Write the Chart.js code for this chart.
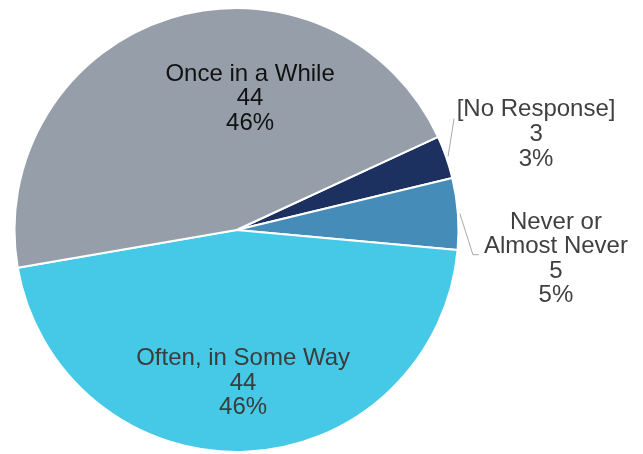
<!DOCTYPE html>
<html>
<head>
<meta charset="utf-8">
<script src="https://cdn.jsdelivr.net/npm/chart.js@4/dist/chart.umd.min.js"></script>
<style>
    html, body { margin: 0; padding: 0; background: #fff; }
    #wrap { width: 643px; height: 454px; }
</style>
</head>
<body>
<div id="wrap"><canvas id="myChart" width="643" height="454"></canvas></div>
<script>
const categories = ['[No Response]', 'Never or\nAlmost Never', 'Often, in Some Way', 'Once in a While'];
const counts = [3, 5, 44, 44];
const sliceColors = ['#1c3160', '#468cb8', '#46c9e6', '#969fa9'];
const labelColors = ['#404040', '#404040', '#3c3c3c', '#111111'];

const total = counts.reduce((a, b) => a + b, 0);
const percents = counts.map(v => Math.round(v / total * 100) + '%');

// where each label goes: inside ones by angle/distance from the centre,
// outside ones as an offset from the slice edge with a leader line
const labelPlacement = [
    { outside: true, dx: 88, dy: -40, elbow: [6, -38], tail: 0 },
    { outside: true, dx: 96, dy: 15, elbow: [13, 41], tail: 6 },
    { outside: false, angle: 87.2, dist: 0.609 },
    { outside: false, angle: -84.8, dist: 0.675 }
];

const pieLabels = {
    id: 'pieLabels',
    afterDatasetsDraw(chart) {
        const ctx = chart.ctx;
        const meta = chart.getDatasetMeta(0);
        ctx.save();
        ctx.font = '24px "Liberation Sans", Arial, sans-serif';
        ctx.textAlign = 'center';
        ctx.textBaseline = 'alphabetic';
        meta.data.forEach((arc, i) => {
            const p = labelPlacement[i];
            const r = arc.outerRadius;
            const lines = categories[i].split('\n').concat([String(counts[i]), percents[i]]);
            let x, y, lh;
            if (p.outside) {
                const mid = (arc.startAngle + arc.endAngle) / 2;
                const ex = arc.x + Math.cos(mid) * (r + 2);
                const ey = arc.y + Math.sin(mid) * (r + 2);
                ctx.strokeStyle = '#a8a8a8';
                ctx.lineWidth = 1;
                ctx.beginPath();
                ctx.moveTo(ex, ey);
                ctx.lineTo(ex + p.elbow[0], ey + p.elbow[1]);
                if (p.tail) ctx.lineTo(ex + p.elbow[0] + p.tail, ey + p.elbow[1]);
                ctx.stroke();
                x = ex + p.dx;
                y = ey + p.dy;
                lh = 24.6;
            } else {
                const a = p.angle * Math.PI / 180;
                x = arc.x + Math.cos(a) * r * p.dist;
                y = arc.y + Math.sin(a) * r * p.dist;
                lh = 24.5;
            }
            ctx.fillStyle = labelColors[i];
            lines.forEach((t, k) => ctx.fillText(t, x, y + k * lh));
        });
        ctx.restore();
    }
};

new Chart(document.getElementById('myChart'), {
    type: 'pie',
    data: {
        labels: categories,
        datasets: [{
            data: counts,
            backgroundColor: sliceColors,
            borderColor: '#ffffff',
            borderWidth: 2
        }]
    },
    options: {
        responsive: false,
        animation: false,
        rotation: 65.2,
        layout: { padding: { left: 13, top: 7, right: 183, bottom: 1 } },
        plugins: {
            legend: { display: false },
            tooltip: { enabled: false }
        }
    },
    plugins: [pieLabels]
});
</script>
</body>
</html>
